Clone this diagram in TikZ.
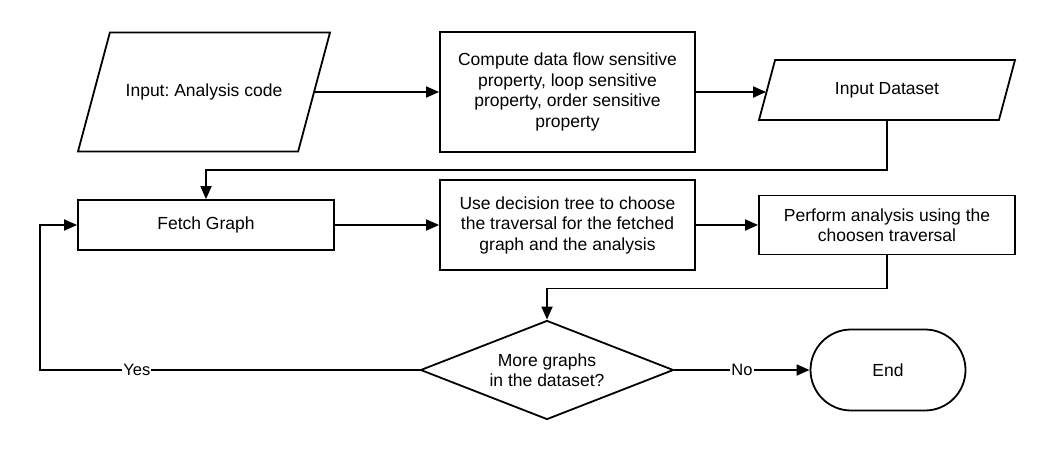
\documentclass[tikz,border=0pt]{standalone}
\usepackage{fontspec}
\setmainfont{Liberation Sans}
\frenchspacing
\usetikzlibrary{shapes, shapes.geometric, shapes.misc, arrows.meta, positioning, calc}

\tikzset{
  base/.style={draw, line width=1.8pt, align=center, inner sep=2pt, font=\fontsize{17.5}{20.5}\selectfont},
  procbox/.style={base, rectangle},
  iobox/.style={base, trapezium, trapezium left angle=75, trapezium right angle=105, trapezium stretches body=true, text height=12.6pt, text depth=3.7pt},
  decision/.style={base, diamond, aspect=2.55, inner sep=1pt},
  terminal/.style={base, rounded rectangle},
  arr/.style={line width=1.8pt, -{Triangle[length=13pt, width=11pt]}},
  lbl/.style={fill=white, inner sep=1pt, font=\fontsize{16.5}{19}\selectfont}
}

\begin{document}
\begin{tikzpicture}[x=1pt, y=-1pt]
  \useasboundingbox (0,0) rectangle (1056,460);

  % top row
  \node[iobox, inner ysep=51.35pt, minimum width=252pt] (input) at (204,92) {Input: Analysis code};
  \node[procbox, minimum width=255pt, minimum height=120pt] (compute) at (567.5,92) {Compute data flow sensitive\\property, loop sensitive\\property, order sensitive\\property};
  \node[iobox, inner ysep=21.85pt, minimum width=256pt] (dataset) at (887,90) {Input Dataset};

  % middle row
  \node[procbox, minimum width=256pt, minimum height=50pt] (fetch) at (206,225) {Fetch Graph};
  \node[procbox, minimum width=255pt, minimum height=90pt] (choose) at (567.5,225) {Use decision tree to choose\\the traversal for the fetched\\graph and the analysis};
  \node[procbox, minimum width=256pt, minimum height=59pt] (perform) at (887,225) {Perform analysis using the\\choosen traversal};

  % bottom row
  \node[decision, minimum width=253pt, minimum height=99pt] (more) at (547,370) {More graphs\\in the dataset?};
  \node[terminal, minimum width=159pt, minimum height=81pt] (end) at (888,370) {End};

  \coordinate (loop) at (40,370);

  % connectors
  \draw[arr] (input.east) -- (compute.west);
  \draw[arr] (compute.east) -- (compute.east -| dataset.west);
  \draw[arr] (dataset.south) -- ++(0,49) -| (fetch.north);
  \draw[arr] (fetch.east) -- (choose.west);
  \draw[arr] (choose.east) -- (perform.west);
  \draw[arr] (perform.south) -- ++(0,33) -| (more.north);
  \draw[arr] (more.east) -- node[lbl]{No} (end.west);
  \draw[arr] (more.west) -- node[lbl, pos=0.745]{Yes} (loop) |- (fetch.west);
\end{tikzpicture}
\end{document}
